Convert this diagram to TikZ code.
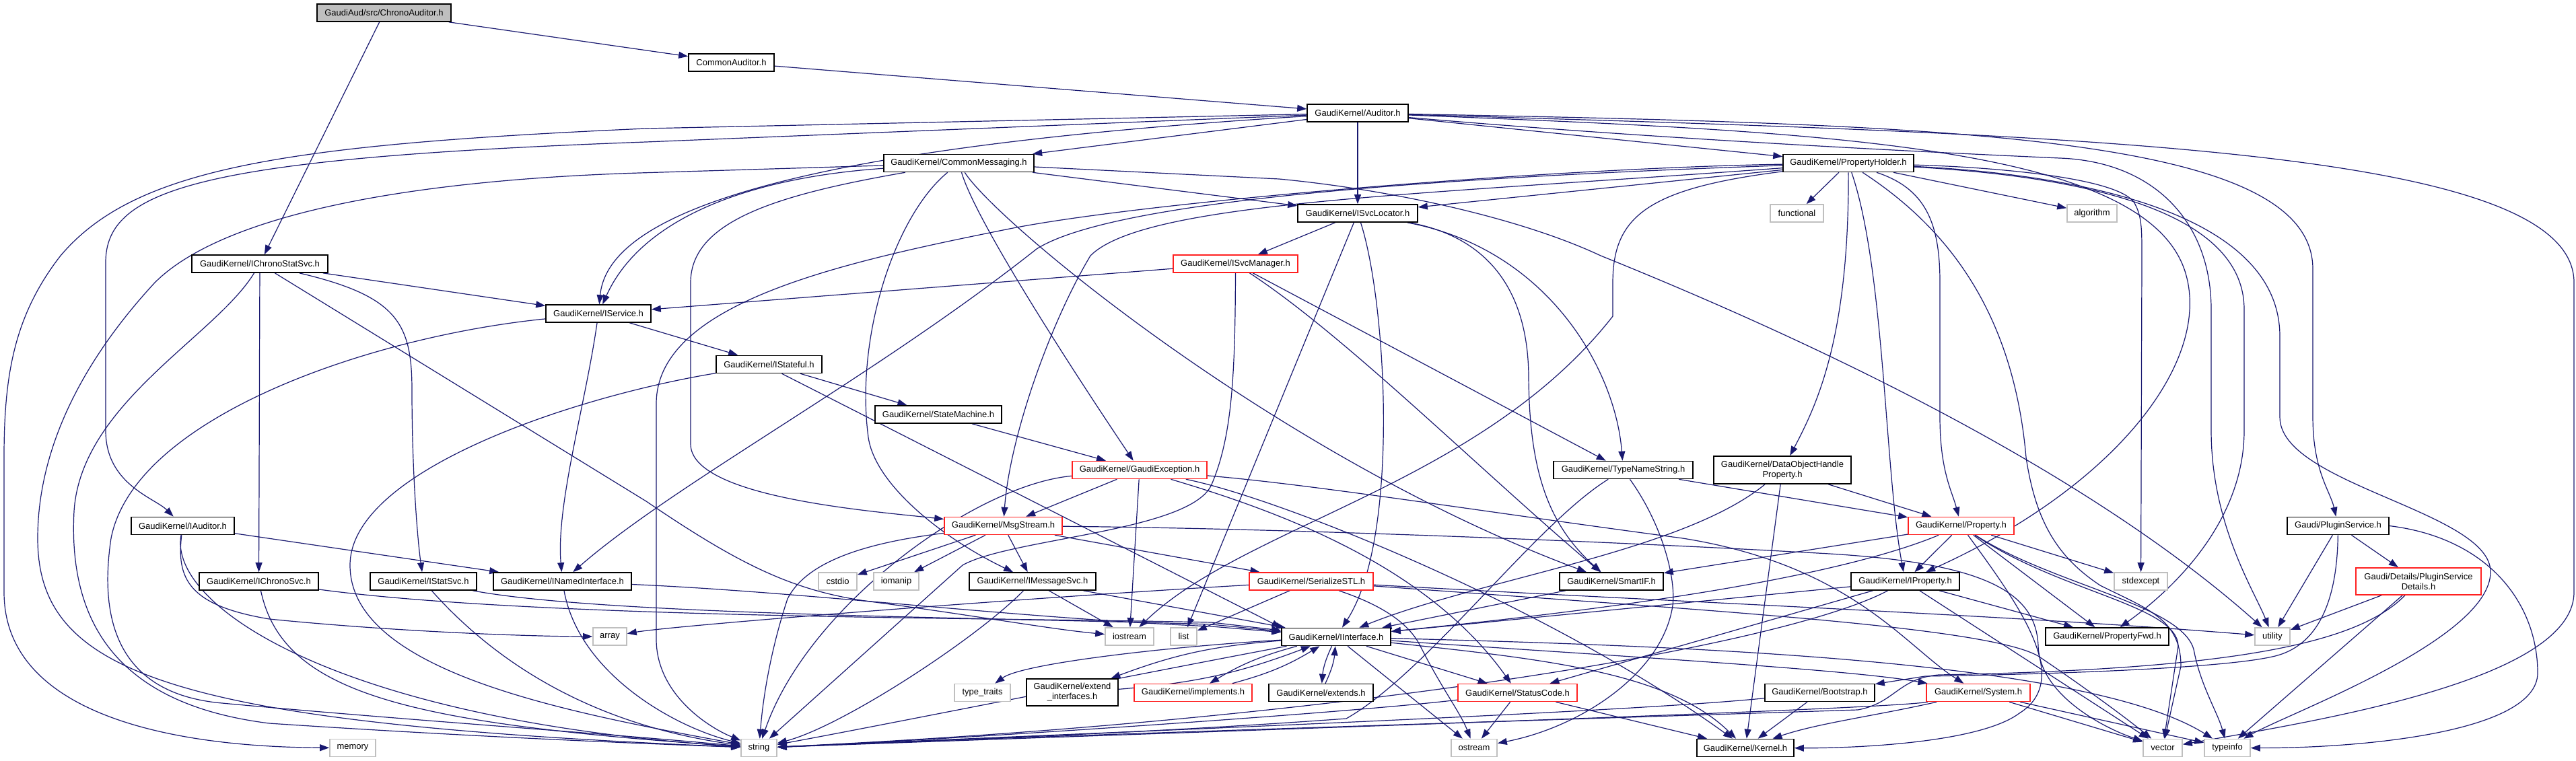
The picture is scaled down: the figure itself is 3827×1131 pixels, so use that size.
\documentclass[tikz,border=0pt]{standalone}
\usepackage{fontspec}
\setmainfont{Liberation Sans}
\usetikzlibrary{arrows.meta}
\pgfdeclarelayer{bg}
\pgfsetlayers{bg,main}
\definecolor{eb}{HTML}{191970}
\definecolor{gb}{HTML}{BFBFBF}
\definecolor{rb}{HTML}{FF2020}
\begin{document}
\begin{tikzpicture}[x=1pt,y=-1pt,
  nb/.style={draw=black, line width=1.6pt, fill=white, minimum height=26pt, inner sep=0pt, font=\fontsize{13pt}{15pt}\selectfont, align=center},
  nr/.style={nb, draw=rb},
  ng/.style={nb, draw=gb},
  edg/.style={draw=eb, line width=1.2pt, -{Triangle[length=14pt,width=10pt]}}]
\useasboundingbox (0,0) rectangle (3827,1131);
% nodes
\node[nb, fill=gb, minimum width=199pt] (root) at (570.5,19) {GaudiAud/src/ChronoAuditor.h};
\node[nb, minimum width=127pt] (cau) at (1086.5,93) {CommonAuditor.h};
\node[nb, minimum width=150pt] (au) at (2017,168) {GaudiKernel/Auditor.h};
\node[nb, minimum width=223pt] (cm) at (1424.5,242.5) {GaudiKernel/CommonMessaging.h};
\node[nb, minimum width=194pt] (ph) at (2746,242.5) {GaudiKernel/PropertyHolder.h};
\node[nb, minimum width=178pt] (isl) at (2017,317) {GaudiKernel/ISvcLocator.h};
\node[ng, minimum width=79pt] (fun) at (2669.5,317) {functional};
\node[ng, minimum width=74pt] (alg) at (3108,317) {algorithm};
\node[nb, minimum width=202pt] (icss) at (386,392) {GaudiKernel/IChronoStatSvc.h};
\node[nb, minimum width=156pt] (is) at (889,466) {GaudiKernel/IService.h};
\node[nr, minimum width=185pt] (ism) at (1835.5,392) {GaudiKernel/ISvcManager.h};
\node[nb, minimum width=157pt] (ist) at (1142.5,541.5) {GaudiKernel/IStateful.h};
\node[nb, minimum width=188pt] (sm) at (1394,616) {GaudiKernel/StateMachine.h};
\node[nr, minimum width=200pt] (ge) at (1693,698.5) {GaudiKernel/GaudiException.h};
\node[nb, minimum width=207pt] (tns) at (2411.5,698.5) {GaudiKernel/TypeNameString.h};
\node[nb, minimum width=204pt, minimum height=41pt] (dohp) at (2648,698.5) {GaudiKernel/DataObjectHandle\\Property.h};
\node[nb, minimum width=153pt] (ia) at (271.5,781.5) {GaudiKernel/IAuditor.h};
\node[nb, minimum width=177pt] (ics) at (384.5,864) {GaudiKernel/IChronoSvc.h};
\node[nb, minimum width=158pt] (iss) at (629,864) {GaudiKernel/IStatSvc.h};
\node[nb, minimum width=205pt] (inf) at (835.5,864) {GaudiKernel/INamedInterface.h};
\node[ng, minimum width=50pt] (arr) at (906,946) {array};
\node[ng, minimum width=68pt] (mem) at (524,1111.5) {memory};
\node[nr, minimum width=175pt] (ms) at (1490.5,781.5) {GaudiKernel/MsgStream.h};
\node[ng, minimum width=57pt] (cst) at (1244.5,864) {cstdio};
\node[ng, minimum width=67pt] (iom) at (1331.5,864) {iomanip};
\node[nb, minimum width=188pt] (ims) at (1534,864) {GaudiKernel/IMessageSvc.h};
\node[nr, minimum width=184pt] (sstl) at (1948,864) {GaudiKernel/SerializeSTL.h};
\node[ng, minimum width=72pt] (ios) at (1678,946) {iostream};
\node[ng, minimum width=39pt] (lst) at (1758.5,946) {list};
\node[nb, minimum width=162pt] (ii) at (1985,946.5) {GaudiKernel/IInterface.h};
\node[ng, minimum width=83pt] (tt) at (1459.5,1029.5) {type\_traits};
\node[nb, minimum width=136pt, minimum height=40pt] (exif) at (1593,1029) {GaudiKernel/extend\\\_interfaces.h};
\node[nr, minimum width=175pt] (impl) at (1772.5,1029.5) {GaudiKernel/implements.h};
\node[nb, minimum width=155pt] (exts) at (1962.5,1029.5) {GaudiKernel/extends.h};
\node[nr, minimum width=177pt] (sc) at (2254.5,1029.5) {GaudiKernel/StatusCode.h};
\node[ng, minimum width=53pt] (str) at (1127.5,1111.5) {string};
\node[ng, minimum width=68pt] (ost) at (2190,1111.5) {ostream};
\node[nb, minimum width=144pt] (krn) at (2593,1111.5) {GaudiKernel/Kernel.h};
\node[nb, minimum width=154pt] (sif) at (2394,864) {GaudiKernel/SmartIF.h};
\node[nb, minimum width=161pt] (ip) at (2830.5,864) {GaudiKernel/IProperty.h};
\node[nr, minimum width=157pt] (prop) at (2913.5,781.5) {GaudiKernel/Property.h};
\node[nb, minimum width=163pt] (bs) at (2703.5,1029.5) {GaudiKernel/Bootstrap.h};
\node[nr, minimum width=154pt] (sys) at (2939,1029.5) {GaudiKernel/System.h};
\node[ng, minimum width=79pt] (stx) at (3180.5,864) {stdexcept};
\node[nb, minimum width=183pt] (pfwd) at (3130.5,946) {GaudiKernel/PropertyFwd.h};
\node[ng, minimum width=52pt] (ut) at (3376,946) {utility};
\node[ng, minimum width=58pt] (vec) at (3213,1111.5) {vector};
\node[ng, minimum width=68pt] (tinf) at (3309,1111.5) {typeinfo};
\node[nb, minimum width=151pt] (ps) at (3473.5,781.5) {Gaudi/PluginService.h};
\node[nr, minimum width=186pt, minimum height=40pt] (psd) at (3593,864) {Gaudi/Details/PluginService\\Details.h};
% edges
\begin{pgfonlayer}{bg}
\fill[white] (0,0) rectangle (3827,1131);
\draw[edg] (root) -- (cau);
\draw[edg] (root) -- (icss);
\draw[edg] (cau) -- (au);
% Auditor
\draw[edg] (au) -- (cm);
\draw[edg] (au) -- (ph);
\draw[edg] (au) -- (isl);
\draw[edg] (au) .. controls (1250,215) and (905,300) .. (is);
\draw[edg] (au) -- (960,211) .. controls (300,235) and (157,280) .. (157,390) -- (157,640) .. controls (157,720) and (230,740) .. (ia);
\draw[edg] (au) -- (960,191) .. controls (420,215) and (200,250) .. (90,380) .. controls (20,470) and (6,560) .. (6,680) -- (6,880) .. controls (6,1060) and (250,1110) .. (mem);
\draw[edg] (au) .. controls (2900,185) and (3436,200) .. (3436,400) -- (3436,620) .. controls (3436,700) and (3462,730) .. (ps);
\draw[edg] (au) .. controls (3100,200) and (3824,220) .. (3824,420) -- (3824,880) .. controls (3824,1010) and (3450,1070) .. (vec);
\draw[edg] (au) .. controls (2700,195) and (3180,215) .. (3245,400) .. controls (3290,530) and (3150,720) .. (ip);
\draw[edg] (au) .. controls (2500,210) and (2950,230) .. (3060,235) .. controls (3200,240) and (3285,330) .. (3285,460) -- (3285,640) .. controls (3285,780) and (3350,880) .. (ut);
% CommonMessaging
\draw[edg] (cm) -- (isl);
\draw[edg] (cm) -- (950,257) .. controls (600,268) and (330,320) .. (230,420) .. controls (110,550) and (56,680) .. (56,800) .. controls (56,1000) and (250,1075) .. (str);
\draw[edg] (cm) .. controls (1330,320) and (1270,500) .. (1290,650) .. controls (1300,720) and (1400,800) .. (ims);
\draw[edg] (cm) .. controls (1450,330) and (1600,560) .. (ge);
\draw[edg] (cm) .. controls (1480,330) and (1900,680) .. (sif);
\draw[edg] (cm) -- (1900,266) .. controls (2050,280) and (2250,320) .. (2378,380) .. controls (2700,510) and (3100,700) .. (ut);
\draw[edg] (cm) .. controls (1100,265) and (950,330) .. (is);
\draw[edg] (cm) .. controls (1150,290) and (1026,330) .. (1026,420) -- (1026,660) .. controls (1026,740) and (1300,760) .. (ms);
% PropertyHolder
\draw[edg] (ph) -- (isl);
\draw[edg] (ph) -- (fun);
\draw[edg] (ph) -- (alg);
\draw[edg] (ph) .. controls (2747,500) and (2700,600) .. (dohp);
\draw[edg] (ph) .. controls (2800,400) and (2800,700) .. (ip);
\draw[edg] (ph) .. controls (2860,280) and (2882,330) .. (2882,420) -- (2882,620) .. controls (2882,700) and (2900,730) .. (prop);
\draw[edg] (ph) .. controls (2880,330) and (2990,450) .. (3010,680) .. controls (3025,780) and (3060,830) .. (3120,870) .. controls (3190,905) and (3240,920) .. (3240,990) -- (vec);
\draw[edg] (ph) .. controls (2950,248) and (3140,262) .. (3170,300) .. controls (3182,320) and (3182,340) .. (3182,380) -- (stx);
\draw[edg] (ph) .. controls (3050,260) and (3334,300) .. (3334,460) -- (3334,640) .. controls (3334,760) and (3250,860) .. (pfwd);
\draw[edg] (ph) .. controls (3100,260) and (3387,320) .. (3387,500) -- (3387,620) .. controls (3387,720) and (3700,760) .. (3700,850) .. controls (3700,950) and (3400,1060) .. (tinf);
\draw[edg] (ph) .. controls (2300,250) and (1700,300) .. (1500,340) .. controls (1250,390) and (975,450) .. (975,600) -- (975,950) .. controls (975,1030) and (1050,1080) .. (str);
\draw[edg] (ph) .. controls (2100,265) and (1650,300) .. (1540,370) .. controls (1300,560) and (1000,720) .. (inf);
\draw[edg] (ph) .. controls (2100,290) and (1700,300) .. (1620,380) .. controls (1560,480) and (1500,650) .. (ms);
\draw[edg] (ph) .. controls (2450,280) and (2396,320) .. (2396,420) -- (2396,470) .. controls (2200,720) and (1850,780) .. (ios);
% Plugin service
\draw[edg] (ps) .. controls (3472,900) and (3440,960) .. (3380,975) .. controls (3300,995) and (3000,1003) .. (2860,1005) -- (bs);
\draw[edg] (psd) .. controls (3500,960) and (3300,995) .. (2880,1003) .. controls (2820,1008) and (2815,1045) .. (2760,1055) .. controls (2300,1070) and (1500,1095) .. (str);
\draw[edg] (ps) -- (ut);
\draw[edg] (ps) -- (psd);
\draw[edg] (ps.east) .. controls (3700,800) and (3770,900) .. (3770,1000) .. controls (3770,1090) and (3500,1112) .. (tinf);
\draw[edg] (psd) -- (ut);
\draw[edg] (psd) -- (tinf);
% IInterface
\draw[edg] (ii) .. controls (1750,960) and (1520,985) .. (tt);
\draw[edg] (ii) to[bend right=8] (exif);
\draw[edg] (exif) to[bend right=8] (ii);
\draw[edg] (ii) to[bend right=8] (impl);
\draw[edg] (impl) to[bend right=8] (ii);
\draw[edg] (ii) to[bend right=10] (exts);
\draw[edg] (exts) to[bend right=10] (ii);
\draw[edg] (ii) -- (sc);
\draw[edg] (ii) -- (ost);
\draw[edg] (ii) .. controls (2300,980) and (2480,1000) .. (krn);
\draw[edg] (ii) .. controls (2400,975) and (2750,995) .. (sys);
\draw[edg] (ii) .. controls (2500,960) and (3100,980) .. (tinf);
\draw[edg] (ii) .. controls (1700,1000) and (1300,1080) .. (str);
\draw[edg] (sif) -- (ii);
\draw[edg] (sc) -- (ost);
\draw[edg] (sc) -- (krn);
\draw[edg] (sc) .. controls (2000,1060) and (1400,1100) .. (str);
\draw[edg] (bs) -- (krn);
\draw[edg] (bs) .. controls (2400,1060) and (1600,1090) .. (str);
\draw[edg] (sys) .. controls (2780,1065) and (2700,1075) .. (krn);
\draw[edg] (sys) .. controls (2800,1055) and (1700,1090) .. (str);
\draw[edg] (sys) -- (vec);
\draw[edg] (sys) -- (tinf);
% IProperty / Property
\draw[edg] (ip) -- (ii);
\draw[edg] (ip) -- (pfwd);
\draw[edg] (ip) -- (sc);
\draw[edg] (ip) -- (vec);
\draw[edg] (ip) .. controls (2650,960) and (2000,1070) .. (str);
\draw[edg] (prop) -- (ip);
\draw[edg] (prop) -- (sif);
\draw[edg] (prop) .. controls (2700,870) and (2300,915) .. (ii);
\draw[edg] (prop) -- (pfwd);
\draw[edg] (prop) -- (stx);
\draw[edg] (prop) .. controls (3060,880) and (3235,900) .. (3236,960) -- (vec);
\draw[edg] (prop) .. controls (3050,870) and (3250,900) .. (3260,970) .. controls (3270,1020) and (3295,1060) .. (tinf);
\draw[edg] (prop) .. controls (3000,900) and (3080,1010) .. (3000,1060) .. controls (2940,1105) and (2750,1112) .. (krn);
% GaudiException
\draw[edg] (ge) .. controls (1450,720) and (1200,900) .. (str);
\draw[edg] (ge) -- (ms);
\draw[edg] (ge) -- (ios);
\draw[edg] (ge) .. controls (1900,760) and (2120,840) .. (sc);
\draw[edg] (ge) .. controls (1900,740) and (2300,900) .. (krn);
\draw[edg] (ge) .. controls (1950,720) and (2200,760) .. (2500,800) .. controls (2750,840) and (2830,960) .. (sys);
% DataObjectHandleProperty, TypeNameString
\draw[edg] (dohp) -- (prop);
\draw[edg] (dohp) -- (krn);
\draw[edg] (dohp) .. controls (2500,820) and (2200,860) .. (ii);
\draw[edg] (tns) .. controls (2280,780) and (2120,1000) .. (2000,1068) .. controls (1700,1090) and (1400,1100) .. (str);
\draw[edg] (tns) .. controls (2470,780) and (2490,860) .. (2485,900) .. controls (2470,1000) and (2350,1080) .. (ost);
\draw[edg] (tns) .. controls (2600,730) and (2780,760) .. (prop);
% IMessageSvc, MsgStream, SerializeSTL
\draw[edg] (ims) .. controls (1450,950) and (1250,1080) .. (str);
\draw[edg] (ims) -- (ios);
\draw[edg] (ims) -- (ii);
\draw[edg] (ms) -- (cst);
\draw[edg] (ms) -- (iom);
\draw[edg] (ms) -- (ims);
\draw[edg] (ms) .. controls (1300,805) and (1200,830) .. (1170,890) .. controls (1150,950) and (1135,1020) .. (str);
\draw[edg] (ms) -- (sstl);
\draw[edg] (ms) .. controls (1900,785) and (2400,805) .. (2700,822) .. controls (2950,835) and (3025,880) .. (3028,960) .. controls (3030,1030) and (3120,1080) .. (vec);
\draw[edg] (sstl) .. controls (1500,890) and (1000,930) .. (arr);
\draw[edg] (sstl) -- (lst);
\draw[edg] (sstl) .. controls (2040,895) and (2090,920) .. (2110,960) .. controls (2140,1020) and (2170,1060) .. (ost);
\draw[edg] (sstl) .. controls (2500,895) and (3000,915) .. (ut);
\draw[edg] (sstl) .. controls (2500,905) and (2950,930) .. (3028,975) .. controls (3080,1010) and (3150,1060) .. (vec);
% IAuditor, IChronoSvc, IStatSvc, INamedInterface
\draw[edg] (ia) -- (inf);
\draw[edg] (ia) .. controls (262,860) and (280,900) .. (400,920) .. controls (600,940) and (800,946) .. (arr);
\draw[edg] (ia) .. controls (250,900) and (500,1070) .. (str);
\draw[edg] (ics) .. controls (420,1030) and (600,1075) .. (str);
\draw[edg] (ics) .. controls (800,920) and (1500,918) .. (1800,925) -- (ii);
\draw[edg] (iss) .. controls (900,915) and (1500,918) .. (1800,928) -- (ii);
\draw[edg] (inf) .. controls (1200,880) and (1500,918) .. (1800,931) -- (ii);
\draw[edg] (iss) .. controls (750,1000) and (900,1080) .. (str);
\draw[edg] (inf) .. controls (860,1000) and (1000,1080) .. (str);
% IChronoStatSvc
\draw[edg] (icss) -- (is);
\draw[edg] (icss) -- (ics);
\draw[edg] (icss) .. controls (590,440) and (612,480) .. (612,580) .. controls (612,700) and (620,800) .. (iss);
\draw[edg] (icss) .. controls (320,500) and (120,600) .. (110,760) .. controls (100,950) and (200,1050) .. (400,1075) .. controls (700,1095) and (950,1105) .. (str);
\draw[edg] (icss) -- (960,745) .. controls (1100,840) and (1180,880) .. (1300,895) .. controls (1450,915) and (1560,935) .. (ios);
% IService, IStateful
\draw[edg] (is) .. controls (870,600) and (826,750) .. (inf);
\draw[edg] (is) -- (ist);
\draw[edg] (is) .. controls (550,500) and (200,620) .. (165,800) .. controls (150,900) and (160,1030) .. (330,1045) .. controls (600,1070) and (900,1090) .. (str);
\draw[edg] (ist) -- (sm);
\draw[edg] ([xshift=19pt]ist.south) -- (ii.north west);
\draw[edg] (ist) .. controls (850,590) and (520,700) .. (520,840) .. controls (520,1000) and (850,1060) .. (str);
\draw[edg] (sm) -- (ge);
% ISvcManager, ISvcLocator
\draw[edg] (ism) -- (is);
\draw[edg] (ism) -- (tns);
\draw[edg] (ism) .. controls (2000,500) and (2200,700) .. (sif);
\draw[edg] (ism) .. controls (1835,560) and (1830,650) .. (1800,720) .. controls (1770,790) and (1500,800) .. (1430,840) -- (str);
\draw[edg] (isl) -- (ism);
\draw[edg] (isl) -- (lst);
\draw[edg] (isl) .. controls (2060,450) and (2080,800) .. (ii);
\draw[edg] (isl) .. controls (2200,350) and (2270,420) .. (2271,560) .. controls (2272,700) and (2300,780) .. (sif);
\draw[edg] (isl) .. controls (2300,370) and (2400,550) .. (tns);
\end{pgfonlayer}
\end{tikzpicture}
\end{document}
